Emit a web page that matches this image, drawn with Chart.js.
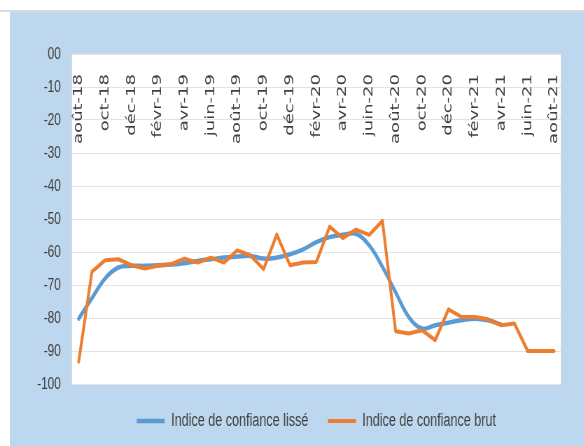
<!DOCTYPE html>
<html>
<head>
<meta charset="utf-8">
<script src="https://cdn.jsdelivr.net/npm/chart.js@4.4.0/dist/chart.umd.min.js"></script>
<style>
  html, body { margin: 0; padding: 0; background: #fff; }
  body { width: 584px; height: 446px; position: relative; overflow: hidden; }
  #rule { position: absolute; left: 0; top: 10px; width: 584px; height: 2px; background: #d9d9d9; }
  #frame { position: absolute; left: 10px; top: 12px; right: 0; bottom: 0; background: #bdd7ee; }
  /* the source picture is squeezed sideways, so the chart is drawn wider and scaled down */
  #wrap { position: absolute; left: 0; top: 0; width: 834px; height: 446px; transform: scaleX(0.7); transform-origin: 0 0; }
</style>
</head>
<body>
<div id="rule"></div>
<div id="frame"></div>
<div id="wrap"><canvas id="myChart" width="834" height="446"></canvas></div>
<script>
var months = ["août-18", "sept-18", "oct-18", "nov-18", "déc-18",
  "janv-19", "févr-19", "mars-19", "avr-19", "mai-19", "juin-19", "juil-19", "août-19", "sept-19", "oct-19", "nov-19", "déc-19",
  "janv-20", "févr-20", "mars-20", "avr-20", "mai-20", "juin-20", "juil-20", "août-20", "sept-20", "oct-20", "nov-20", "déc-20",
  "janv-21", "févr-21", "mars-21", "avr-21", "mai-21", "juin-21", "juil-21", "août-21"];

var indiceLisse = [-80.2, -74, -68, -64.7, -64.2, -64.2, -64, -63.8, -63.4, -62.7, -62.2, -61.7, -61.4, -61.2, -62, -61.7, -60.7,
  -59.2, -57, -55.5, -54.8, -54.5, -58, -64.5, -72.2, -79.7, -83.2, -82.2, -81.4, -80.7, -80.2, -80.7, -82,
  null, null, null, null];

var indiceBrut = [-93.2, -66, -62.5, -62.2, -64, -65, -64.2, -63.7, -62, -63.2, -61.7, -63.2, -59.5, -61, -65.2, -54.7, -64,
  -63.2, -63, -52.3, -55.8, -53.2, -54.8, -50.6, -84, -84.7, -83.7, -86.7, -77.4, -79.7, -79.7, -80.4, -82.2,
  -81.7, -90, -90, -90];

var seriesNames = ["Indice de confiance lissé", "Indice de confiance brut"];

var plotBg = {
  id: 'plotBg',
  beforeDraw: function (chart) {
    var a = chart.chartArea, ctx = chart.ctx;
    ctx.save();
    ctx.fillStyle = '#ffffff';
    ctx.fillRect(a.left, a.top, a.right - a.left, a.bottom - a.top);
    ctx.strokeStyle = '#dadada';
    ctx.lineWidth = 1;
    ctx.strokeRect(a.left - 0.5, a.top - 0.5, a.right - a.left + 1, a.bottom - a.top + 1);
    ctx.restore();
  }
};

new Chart("myChart", {
  type: "line",
  data: {
    labels: months,
    datasets: [{
      label: seriesNames[0],
      data: indiceLisse,
      borderColor: "#5b9bd5",
      backgroundColor: "#5b9bd5",
      borderWidth: 4.5,
      tension: 0.4,
      borderCapStyle: 'round',
      borderJoinStyle: 'round',
      pointRadius: 0,
      order: 1
    }, {
      label: seriesNames[1],
      data: indiceBrut,
      borderColor: "#ed7d31",
      backgroundColor: "#ed7d31",
      borderWidth: 4,
      tension: 0,
      borderCapStyle: 'round',
      borderJoinStyle: 'round',
      pointRadius: 0,
      order: 0
    }]
  },
  options: {
    responsive: false,
    animation: false,
    layout: {padding: {left: 0, right: 33, top: 54, bottom: 6}},
    plugins: {
      legend: {
        position: 'bottom',
        fullSize: false,
        labels: {
          usePointStyle: true,
          pointStyle: 'line',
          pointStyleWidth: 40,
          boxHeight: 5,
          padding: 28,
          color: '#404040',
          font: {family: 'Liberation Sans', size: 18},
          sort: function (a, b) { return a.datasetIndex - b.datasetIndex; }
        }
      },
      tooltip: {enabled: false}
    },
    scales: {
      x: {
        position: {y: 0},
        offset: true,
        grid: {display: false},
        border: {display: false},
        ticks: {
          autoSkip: false,
          minRotation: 90,
          maxRotation: 90,
          padding: 12,
          color: '#404040',
          font: {family: 'DejaVu Sans', size: 18},
          callback: function (v, i) { return i % 2 === 0 ? months[i] : ''; }
        }
      },
      y: {
        min: -100,
        max: 0,
        afterFit: function (s) { s.width = 103; },
        grid: {color: '#e3e3e3', lineWidth: 1, drawTicks: false},
        border: {display: false},
        ticks: {
          stepSize: 10,
          padding: 16,
          color: '#404040',
          font: {family: 'Liberation Sans', size: 17},
          callback: function (v) { return v === 0 ? '00' : String(v); }
        }
      }
    }
  },
  plugins: [plotBg]
});
</script>
</body>
</html>
